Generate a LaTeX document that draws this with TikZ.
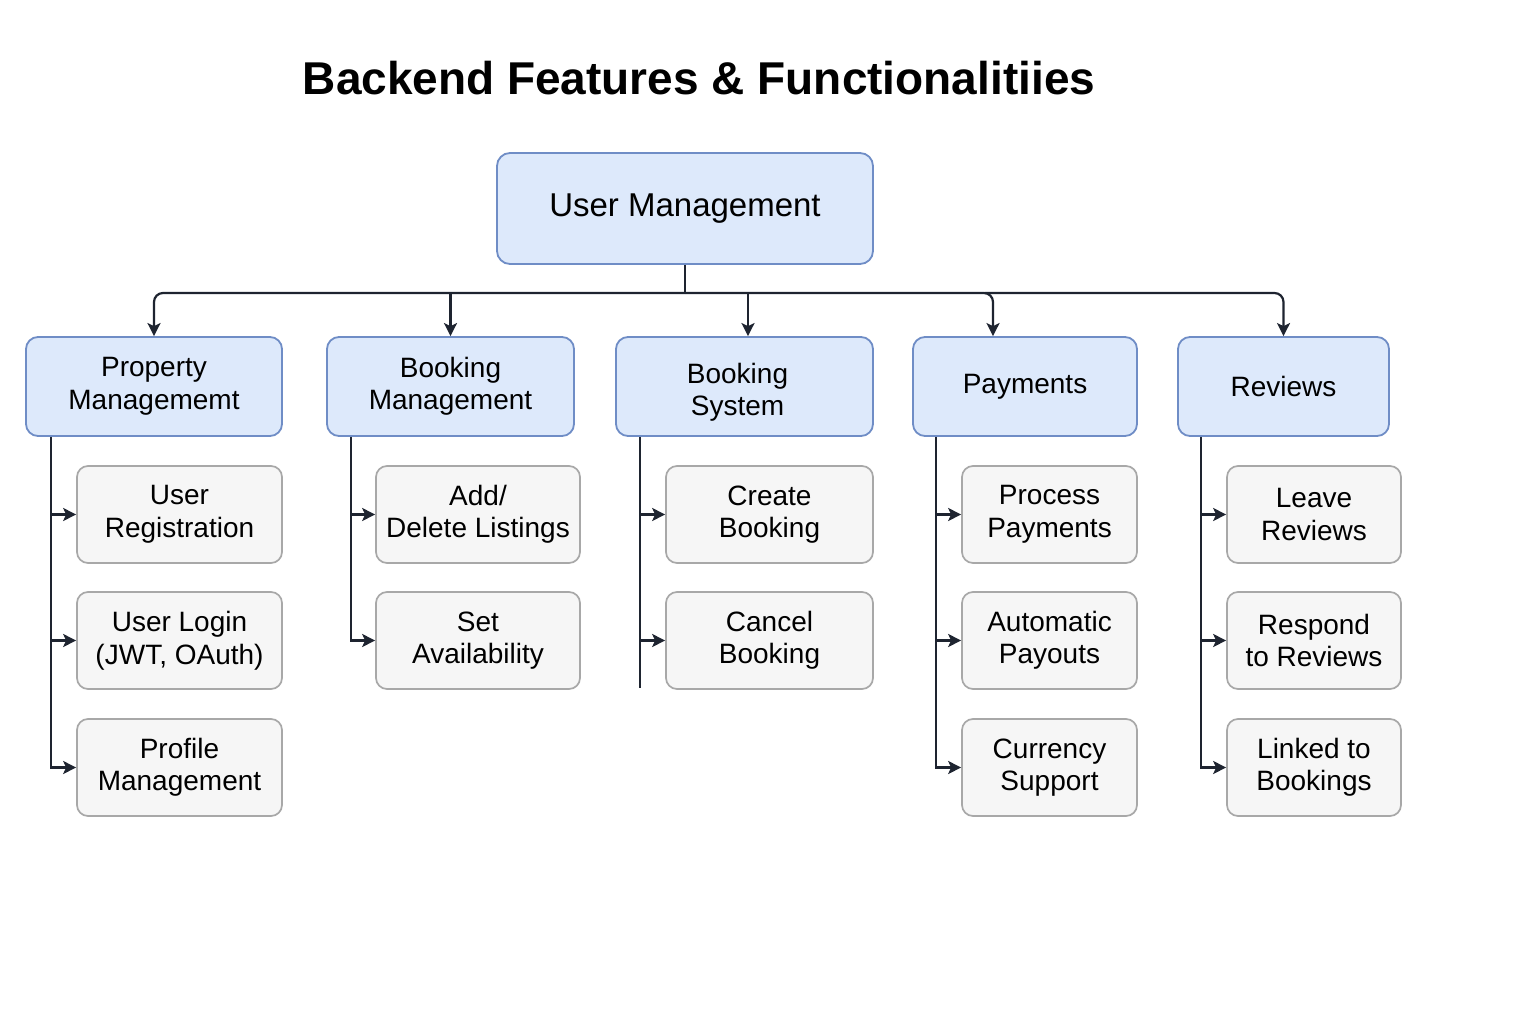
\documentclass[tikz,border=0pt]{standalone}
\usepackage{fontspec}
\setmainfont{Liberation Sans}
\usetikzlibrary{arrows.meta}
\definecolor{fillblue}{HTML}{DDE9FB}
\definecolor{bordblue}{HTML}{6F8DC6}
\definecolor{leaffill}{HTML}{F6F6F6}
\definecolor{leafgray}{HTML}{A8A8A8}
\definecolor{linec}{HTML}{1E2430}
\begin{document}
\begin{tikzpicture}[x=1pt,y=-1pt,
  rootbox/.style={draw=bordblue, fill=fillblue, rounded corners=13pt, line width=1.8pt, minimum width=376pt, minimum height=111pt, inner sep=0pt, align=center, font=\fontsize{33}{38}\selectfont},
  lvlone/.style={draw=bordblue, fill=fillblue, rounded corners=12pt, line width=1.8pt, minimum height=99pt, inner sep=0pt, align=center, font=\fontsize{28}{32.5}\selectfont},
  lbltext/.style={align=center, inner sep=0pt, font=\fontsize{28}{32.5}\selectfont},
  leaf/.style={draw=leafgray, fill=leaffill, rounded corners=11pt, line width=1.7pt, minimum height=97pt, inner sep=0pt, align=center, font=\fontsize{28}{32.5}\selectfont},
  conn/.style={line width=2.2pt, draw=linec},
  arr/.style={conn, -{Stealth[length=13pt,width=13pt,inset=3pt]}}
]
\useasboundingbox[fill=white] (0,0) rectangle (1536,1024);

\node[anchor=base, font=\fontsize{46}{52}\selectfont\bfseries] (title) at (699,95) {Backend Features \& Functionalitiies};

\node[rootbox] (root) at (685,208.5) {\raisebox{-2pt}{User Management}};

% level one
\node[lvlone, minimum width=256pt] (pm) at (154,386.5) {Property\\Managememt};
\node[lvlone, minimum width=247pt] (bm) at (450.5,386.5) {Booking\\Management};
\node[lvlone, minimum width=257pt, label={[lbltext, xshift=-7pt, yshift=-6pt]center:{Booking\\System}}] (bs) at (744.5,386.5) {};
\node[lvlone, minimum width=224pt] (pay) at (1025,386.5) {Payments};
\node[lvlone, minimum width=211pt] (rev) at (1283.5,386.5) {Reviews};

% leaves
\node[leaf, minimum width=205pt] (pl1) at (179.5,514.5) {User\\Registration};
\node[leaf, minimum width=205pt] (pl2) at (179.5,640.5) {User Login\\(JWT, OAuth)};
\node[leaf, minimum width=205pt] (pl3) at (179.5,767.5) {Profile\\Management};

\node[leaf, minimum width=204pt] (bml1) at (478,514.5) {Add/\\Delete Listings};
\node[leaf, minimum width=204pt] (bml2) at (478,640.5) {Set\\Availability};

\node[leaf, minimum width=207pt] (bsl1) at (769.5,514.5) {Create\\Booking};
\node[leaf, minimum width=207pt] (bsl2) at (769.5,640.5) {Cancel\\Booking};

\node[leaf, minimum width=175pt] (payl1) at (1049.5,514.5) {Process\\Payments};
\node[leaf, minimum width=175pt] (payl2) at (1049.5,640.5) {Automatic\\Payouts};
\node[leaf, minimum width=175pt] (payl3) at (1049.5,767.5) {Currency\\Support};

\node[leaf, minimum width=174pt] (revl1) at (1314,514.5) {Leave\\Reviews};
\node[leaf, minimum width=174pt] (revl2) at (1314,640.5) {Respond\\to Reviews};
\node[leaf, minimum width=174pt] (revl3) at (1314,767.5) {Linked to\\Bookings};

% top bus
\coordinate (bus) at (685,293);
\draw[conn] (root.south) -- (bus);
\draw[arr, rounded corners=9pt] (bus) -| (pm.north);
\draw[arr] (bm.north |- bus) -- (bm.north);
\draw[arr] ([xshift=3.5pt]bs.north |- bus) -- ([xshift=3.5pt]bs.north);
\draw[arr, rounded corners=9pt] (bus) -| ([xshift=-32pt]pay.north);
\draw[arr, rounded corners=9pt] ([xshift=-40pt]pay.north |- bus) -| (rev.north);

% branch lines
\coordinate (pmx) at ([xshift=26pt]pm.south west);
\draw[arr] (pmx) |- (pl3.west);
\draw[arr] (pl1.west -| pmx) -- (pl1.west);
\draw[arr] (pl2.west -| pmx) -- (pl2.west);

\coordinate (bmx) at ([xshift=25pt]bm.south west);
\draw[arr] (bmx) |- (bml2.west);
\draw[arr] (bml1.west -| bmx) -- (bml1.west);

\coordinate (bsx) at ([xshift=25pt]bs.south west);
\coordinate (bsend) at (641,688);
\draw[conn] (bsx) -- (bsx |- bsend);
\draw[arr] (bsl1.west -| bsx) -- (bsl1.west);
\draw[arr] (bsl2.west -| bsx) -- (bsl2.west);

\coordinate (payx) at ([xshift=24pt]pay.south west);
\draw[arr] (payx) |- (payl3.west);
\draw[arr] (payl1.west -| payx) -- (payl1.west);
\draw[arr] (payl2.west -| payx) -- (payl2.west);

\coordinate (revx) at ([xshift=24pt]rev.south west);
\draw[arr] (revx) |- (revl3.west);
\draw[arr] (revl1.west -| revx) -- (revl1.west);
\draw[arr] (revl2.west -| revx) -- (revl2.west);
\end{tikzpicture}
\end{document}
